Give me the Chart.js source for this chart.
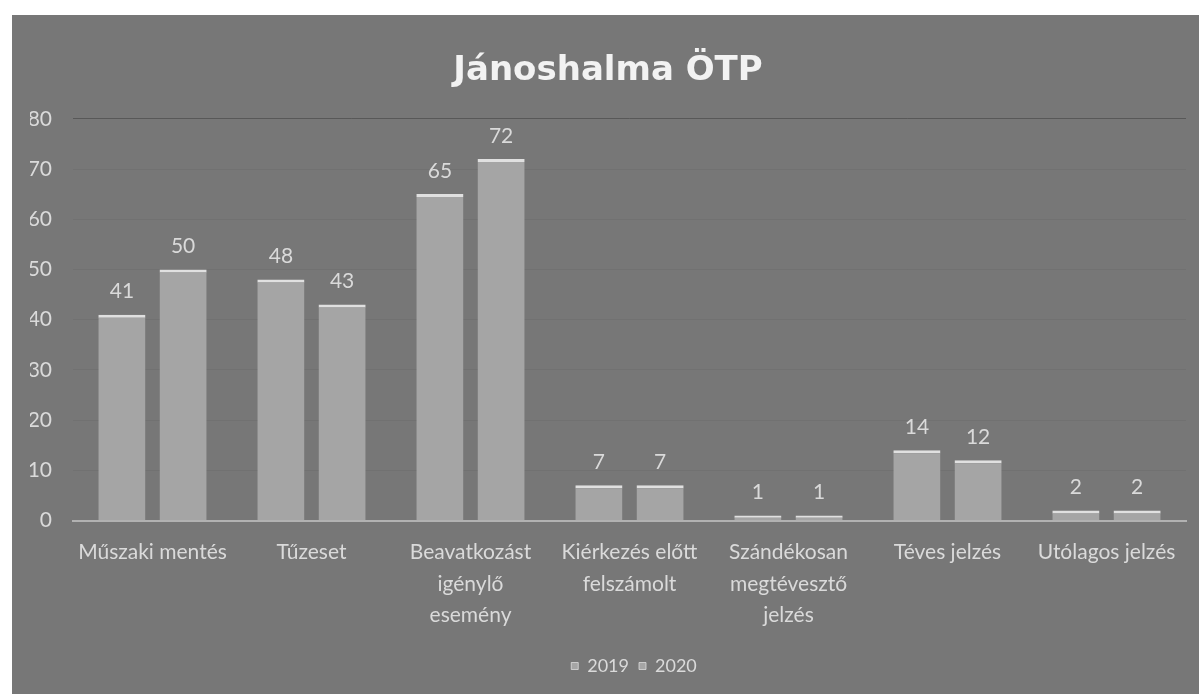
<!DOCTYPE html>
<html>
<head>
<meta charset="utf-8">
<script src="https://cdn.jsdelivr.net/npm/chart.js@4/dist/chart.umd.min.js"></script>
<style>
  html, body { margin: 0; padding: 0; background: #fff; }
  #wrap { position: absolute; left: 12px; top: 15px; width: 1187px; height: 679px; background: #777777; }
</style>
</head>
<body>
<div id="wrap"><canvas id="myChart" width="1187" height="679"></canvas></div>
<script>
// kategóriák (többsoros címkék)
var kategoriak = [
    ['Műszaki mentés'],
    ['Tűzeset'],
    ['Beavatkozást', 'igénylő', 'esemény'],
    ['Kiérkezés előtt', 'felszámolt'],
    ['Szándékosan', 'megtévesztő', 'jelzés'],
    ['Téves jelzés'],
    ['Utólagos jelzés']
];
var ertekek2019 = [41, 48, 65, 7, 1, 14, 2];
var ertekek2020 = [50, 43, 72, 7, 1, 12, 2];
var evek = ['2019', '2020'];

var betu = 'Lato, "Noto Sans", sans-serif';
var szovegSzin = '#dadada';

// értékek kiírása az oszlopok fölé
var ertekCimkek = {
    id: 'ertekCimkek',
    afterLayout: (chart) => {
        // a jelmagyarázat kicsit jobbra van az eredetin
        chart.legend.left += 52;
    },
    afterDatasetsDraw: (chart) => {
        let ctx = chart.ctx;
        ctx.save();
        ctx.font = '21px ' + betu;
        ctx.fillStyle = szovegSzin;
        ctx.textAlign = 'center';
        ctx.textBaseline = 'middle';
        chart.data.datasets.forEach((ds, i) => {
            chart.getDatasetMeta(i).data.forEach((bar, j) => {
                ctx.fillText(ds.data[j], bar.x, bar.y - 23);
            });
        });
        ctx.restore();
    }
};

let ctx = document.getElementById('myChart').getContext('2d');
var myChart = new Chart(ctx, {
    type: 'bar',
    data: {
        labels: kategoriak,
        datasets: [
            {
                label: evek[0],
                data: ertekek2019,
                backgroundColor: 'rgb(165,165,165)',
                borderColor: 'rgb(224,224,224)',
                borderWidth: { top: 3, left: 0, right: 0, bottom: 0 },
                borderSkipped: false
            }, {
                label: evek[1],
                data: ertekek2020,
                backgroundColor: 'rgb(165,165,165)',
                borderColor: 'rgb(224,224,224)',
                borderWidth: { top: 3, left: 0, right: 0, bottom: 0 },
                borderSkipped: false
            }
        ]
    },
    options: {
        responsive: false,
        animation: { duration: 0 },
        categoryPercentage: 0.77,
        barPercentage: 0.77,
        layout: { padding: { left: 18, right: 13, top: 0, bottom: 9 } },
        plugins: {
            title: {
                display: true,
                text: 'Jánoshalma ÖTP',
                color: '#f2f2f2',
                font: { family: '"DejaVu Sans", sans-serif', size: 34, weight: 'bold' },
                padding: { top: 36, bottom: 27 }
            },
            legend: {
                position: 'bottom',
                labels: {
                    color: szovegSzin,
                    font: { family: betu, size: 18 },
                    boxWidth: 7,
                    boxHeight: 7,
                    padding: 10
                }
            },
            tooltip: { enabled: false }
        },
        scales: {
            x: {
                grid: { display: false },
                border: { color: 'rgb(178,178,178)', width: 2 },
                ticks: {
                    color: szovegSzin,
                    font: { family: betu, size: 21, lineHeight: 1.5 },
                    padding: 8,
                    maxRotation: 0,
                    autoSkip: false
                },
                afterFit: (s) => { s.height += 8; }
            },
            y: {
                min: 0,
                max: 80,
                grid: {
                    color: (c) => c.tick && c.tick.value === 80 ? 'rgba(80,80,80,0.8)' : 'rgba(100,100,100,0.3)',
                    drawTicks: false
                },
                border: { display: false },
                ticks: {
                    stepSize: 10,
                    color: szovegSzin,
                    font: { family: betu, size: 21 },
                    padding: 21
                },
                afterFit: (s) => { s.width = 43; }
            }
        }
    },
    plugins: [ertekCimkek]
});
</script>
</body>
</html>
